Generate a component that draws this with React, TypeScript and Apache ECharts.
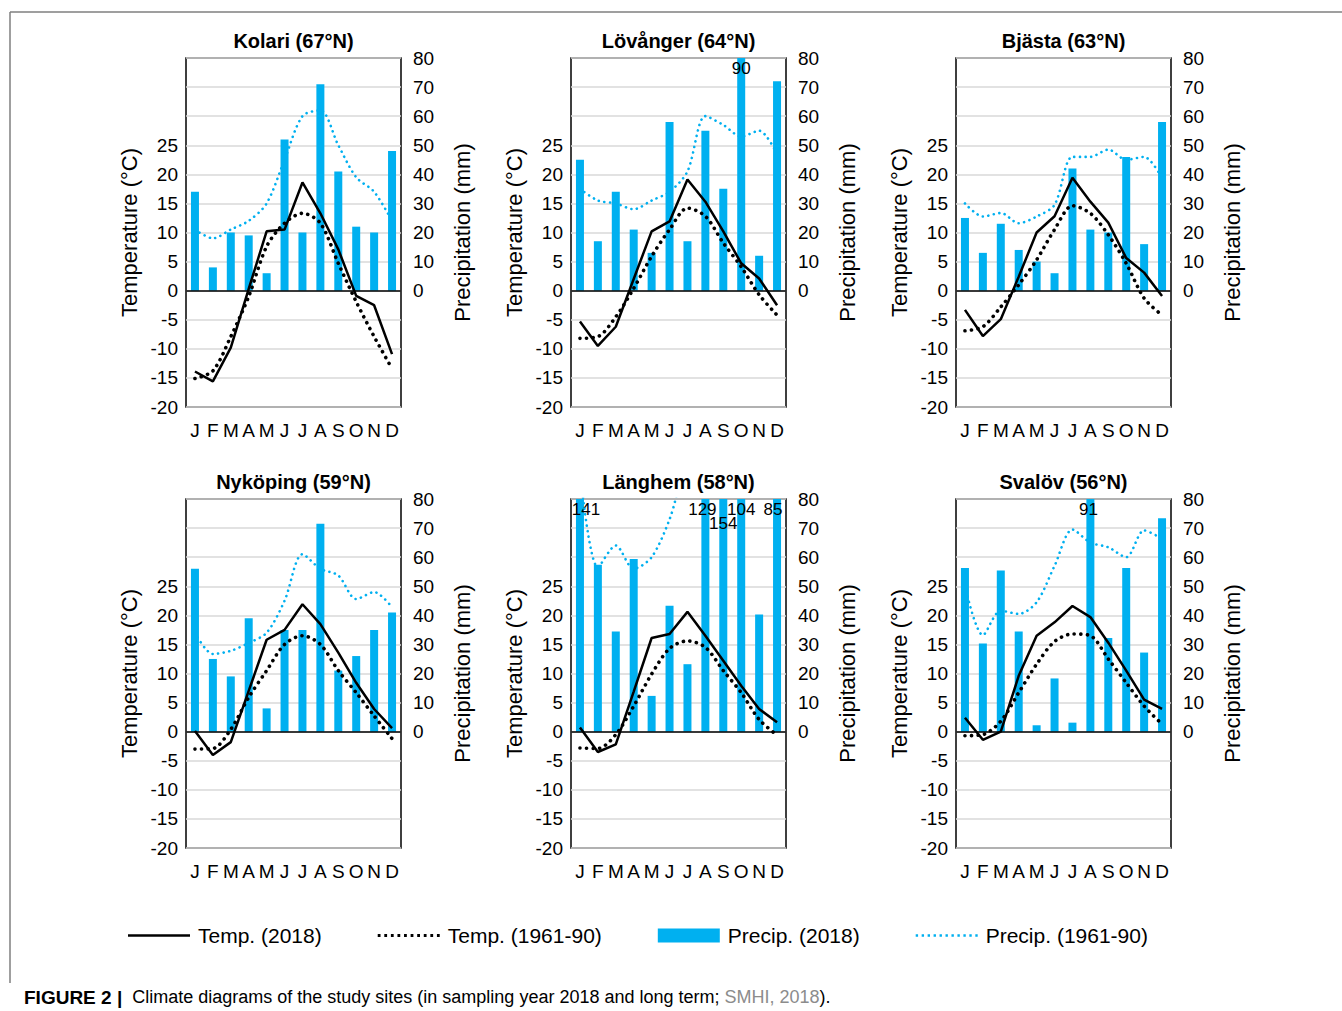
import React, { useEffect, useRef } from 'react';
import * as echarts from 'echarts';

const months = ['Jan', 'Feb', 'Mar', 'Apr', 'May', 'Jun', 'Jul', 'Aug', 'Sep', 'Oct', 'Nov', 'Dec'];
const stationNames = ['Kolari (67°N)', 'Lövånger (64°N)', 'Bjästa (63°N)', 'Nyköping (59°N)', 'Länghem (58°N)', 'Svalöv (56°N)'];
const legendNames = ['Temp. (2018)', 'Temp. (1961-90)', 'Precip. (2018)', 'Precip. (1961-90)'];
const tempTicksShownMax = 25;
const precipTicksShownMin = 0;

const kolariTemp2018 = [-13.9, -15.6, -9.8, 0.3, 10.2, 10.5, 18.6, 13.3, 7.1, -0.9, -2.5, -10.9];
const kolariTemp6190 = [-15.1, -13.8, -7.9, -1.0, 7.6, 11.6, 13.3, 11.6, 4.7, -1.9, -7.9, -13.4];
const kolariPrecip2018 = [34, 8, 20, 19, 6, 52, 20, 71, 41, 22, 20, 48];
const kolariPrecip6190 = [21, 18, 21, 24, 30, 45, 60, 62, 50, 39, 34, 24];

const lovangerTemp2018 = [-5.3, -9.5, -6.2, 2.0, 10.2, 11.9, 19.1, 15.3, 10.2, 4.7, 2.1, -2.5];
const lovangerTemp6190 = [-8.2, -7.9, -4.5, 0.4, 5.9, 10.5, 14.2, 12.8, 8.2, 4.1, -0.7, -4.2];
const lovangerPrecip2018 = [45, 17, 34, 21, 13, 58, 17, 55, 35, 90, 12, 72];
const lovangerPrecip6190 = [35, 31, 30, 28, 31, 34, 41, 60, 57, 53, 55, 47];

const bjastaTemp2018 = [-3.3, -7.8, -4.9, 2.4, 10.0, 12.8, 19.4, 15.3, 11.7, 5.6, 3.1, -0.9];
const bjastaTemp6190 = [-6.9, -6.2, -2.8, 1.0, 5.3, 10.5, 14.6, 13.3, 9.6, 4.7, -1.3, -4.2];
const bjastaPrecip2018 = [25, 13, 23, 14, 10, 6, 42, 21, 20, 46, 16, 58];
const bjastaPrecip6190 = [30, 25.5, 26.7, 23.2, 25.5, 29.5, 46, 46, 48.5, 45, 46, 38.7];

const nykopingTemp2018 = [0.1, -4.0, -1.8, 7.0, 15.8, 17.5, 21.9, 18.5, 13.6, 8.4, 3.9, 0.6];
const nykopingTemp6190 = [-3.0, -2.9, 0.4, 5.9, 10.5, 15.0, 16.5, 15.0, 10.5, 6.7, 2.7, -1.2];
const nykopingPrecip2018 = [56, 25, 19, 39, 8, 35, 35, 71.5, 21, 26, 35, 41];
const nykopingPrecip6190 = [34, 26.7, 27.8, 30.5, 34, 45, 61, 56, 53.7, 45.6, 48, 42.8];

const langhemTemp2018 = [0.7, -3.5, -2.2, 6.9, 16.1, 16.8, 20.6, 16.5, 12.2, 7.9, 3.9, 1.6];
const langhemTemp6190 = [-2.8, -2.9, -0.5, 4.4, 9.9, 14.3, 15.6, 14.5, 10.5, 6.7, 2.1, -0.6];
const langhemPrecip2018 = [141, 57.4, 34.4, 59.4, 12.3, 43.3, 23.2, 129, 154, 104, 40.3, 85];
const langhemPrecip6190 = [90, 56.5, 64, 56, 60, 73, 92, 95, 92, 95, 98, 90];

const svalovTemp2018 = [2.4, -1.4, 0, 9.6, 16.5, 18.8, 21.6, 19.7, 15.3, 10.5, 5.5, 3.9];
const svalovTemp6190 = [-0.7, -0.5, 1.8, 6.7, 11.6, 15.5, 16.8, 16.5, 12.5, 8.4, 4.4, 1.3];
const svalovPrecip2018 = [56.3, 30.3, 55.4, 34.4, 2.2, 18.3, 3.1, 91, 32.2, 56.3, 27.2, 73.4];
const svalovPrecip6190 = [50.2, 33.2, 41.6, 40.5, 44.5, 57, 69.5, 65, 63.4, 60, 69.2, 66.3];

const allTemp2018 = [kolariTemp2018, lovangerTemp2018, bjastaTemp2018, nykopingTemp2018, langhemTemp2018, svalovTemp2018];
const allTemp6190 = [kolariTemp6190, lovangerTemp6190, bjastaTemp6190, nykopingTemp6190, langhemTemp6190, svalovTemp6190];
const allPrecip2018 = [kolariPrecip2018, lovangerPrecip2018, bjastaPrecip2018, nykopingPrecip2018, langhemPrecip2018, svalovPrecip2018];
const allPrecip6190 = [kolariPrecip6190, lovangerPrecip6190, bjastaPrecip6190, nykopingPrecip6190, langhemPrecip6190, svalovPrecip6190];

// label nudges (style only) for bars that exceed the axis: key "station-month"
const labelNudge: Record<string, [number, number]> = {
  '4-0': [6, 0],
  '4-7': [-3, 0],
  '4-8': [0, 14],
  '4-11': [-4, 0],
  '5-7': [-2, 0],
};

const FONT = '"Liberation Sans", Arial, sans-serif';
const BLUE = '#00B0F0';
const COLS = [186, 571, 956];
const ROWS = [58, 499];
const PW = 215;
const PH = 349;
const PRECIP_MAX = 80;

// legend icon shapes (style only)
function dotsPath(n: number, step: number, size: number) {
  let d = '';
  for (let k = 0; k < n; k++) {
    const x = k * step;
    d += `M${x},0 h${size} v${size} h${-size} Z `;
  }
  return 'path://' + d.trim();
}
const solidIcon = 'path://M0,0 H62 V2.6 H0 Z';
const blackDotsIcon = dotsPath(10, 6.6, 2.8);
const blueDotsIcon = dotsPath(11, 6.0, 2.4);

export default function App() {
  const ref = useRef<HTMLDivElement>(null);
  useEffect(() => {
    document.body.style.margin = '0';
    const chart = echarts.init(ref.current!, null, { renderer: 'svg' });
    const grids: any[] = [];
    const xAxes: any[] = [];
    const yAxes: any[] = [];
    const series: any[] = [];
    const graphics: any[] = [];

    stationNames.forEach((name, i) => {
      const left = COLS[i % 3];
      const top = ROWS[Math.floor(i / 3)];
      grids.push({
        left, top, width: PW, height: PH, show: true,
        borderColor: '#000', borderWidth: 1.5, backgroundColor: 'transparent',
      });
      xAxes.push({
        type: 'category', gridIndex: i, data: months,
        axisLine: { show: false, onZero: false }, axisTick: { show: false },
        axisLabel: {
          interval: 0, hideOverlap: false, margin: 14,
          formatter: (v: string) => v.charAt(0),
          fontSize: 19, color: '#000', fontFamily: FONT,
        },
        splitLine: { show: false },
      });
      yAxes.push({
        type: 'value', gridIndex: i, min: -20, max: 40, interval: 5,
        position: 'left',
        name: 'Temperature (°C)', nameLocation: 'middle', nameGap: 46,
        nameTextStyle: { fontSize: 22, color: '#000', fontFamily: FONT },
        axisLine: { show: false }, axisTick: { show: false },
        axisLabel: {
          margin: 8, fontSize: 19, color: '#000', fontFamily: FONT,
          formatter: (v: number) => (v <= tempTicksShownMax ? String(v) : ''),
        },
        splitLine: { show: true, lineStyle: { color: '#d9d9d9', width: 1.5 } },
      });
      yAxes.push({
        type: 'value', gridIndex: i, min: -40, max: PRECIP_MAX, interval: 10,
        position: 'right',
        name: 'Precipitation (mm)', nameLocation: 'middle', nameGap: 50,
        nameTextStyle: { fontSize: 22, color: '#000', fontFamily: FONT },
        axisLine: { show: false }, axisTick: { show: false },
        axisLabel: {
          margin: 12, fontSize: 19, color: '#000', fontFamily: FONT,
          formatter: (v: number) => (v >= precipTicksShownMin ? String(v) : ''),
        },
        splitLine: { show: false },
      });

      series.push({
        name: legendNames[2], type: 'bar', xAxisIndex: i, yAxisIndex: 2 * i + 1,
        barWidth: 8, clip: true,
        itemStyle: { color: BLUE },
        data: allPrecip2018[i].map((v, m) =>
          v > PRECIP_MAX
            ? {
                value: v,
                label: {
                  show: true, position: 'insideTop', distance: 2,
                  offset: labelNudge[`${i}-${m}`] || [0, 0],
                  color: '#000', fontSize: 17, fontFamily: FONT,
                },
              }
            : v
        ),
      });
      series.push({
        name: legendNames[3], type: 'line', xAxisIndex: i, yAxisIndex: 2 * i + 1,
        smooth: 0.3, symbol: 'none', clip: true,
        itemStyle: { color: BLUE },
        lineStyle: { color: BLUE, width: 2.6, type: [0.1, 5.5], cap: 'round' },
        data: allPrecip6190[i],
      });
      series.push({
        name: legendNames[1], type: 'line', xAxisIndex: i, yAxisIndex: 2 * i,
        smooth: 0.3, symbol: 'none', clip: true,
        itemStyle: { color: '#000' },
        lineStyle: { color: '#000', width: 3.6, type: [0.1, 6.5], cap: 'round' },
        data: allTemp6190[i],
      });
      series.push({
        name: legendNames[0], type: 'line', xAxisIndex: i, yAxisIndex: 2 * i,
        symbol: 'none', clip: true,
        itemStyle: { color: '#000' },
        lineStyle: { color: '#000', width: 2.5 },
        data: allTemp2018[i],
        markLine: {
          silent: true, symbol: 'none', label: { show: false },
          lineStyle: { color: '#000', width: 1.5, type: 'solid' },
          data: [{ yAxis: 0 }],
        },
      });

      graphics.push({
        type: 'text', x: left + PW / 2, y: top - 17,
        style: {
          text: name, align: 'center', verticalAlign: 'middle',
          font: `bold 20px ${FONT}`, fill: '#000',
        },
      });
    });

    graphics.push({
      type: 'line', shape: { x1: 10, y1: 12, x2: 1342, y2: 12 },
      style: { stroke: '#7f7f7f', lineWidth: 1.5 },
    });
    graphics.push({
      type: 'line', shape: { x1: 10, y1: 12, x2: 10, y2: 983 },
      style: { stroke: '#7f7f7f', lineWidth: 1.5 },
    });
    graphics.push({
      type: 'text', x: 24, y: 997,
      style: {
        text: '{b|FIGURE 2 |}{r|  Climate diagrams of the study sites (in sampling year 2018 and long term; }{g|SMHI, 2018}{r|).}',
        verticalAlign: 'middle',
        rich: {
          b: { font: `bold 19px ${FONT}`, fill: '#000' },
          r: { font: `18px ${FONT}`, fill: '#000' },
          g: { font: `18px ${FONT}`, fill: '#8c8c8c' },
        },
      },
    });

    chart.setOption({
      animation: false,
      backgroundColor: '#fff',
      textStyle: { fontFamily: FONT },
      grid: grids,
      xAxis: xAxes,
      yAxis: yAxes,
      series,
      legend: {
        data: [
          { name: legendNames[0], icon: solidIcon },
          { name: legendNames[1], icon: blackDotsIcon },
          { name: legendNames[2], icon: 'rect' },
          { name: legendNames[3], icon: blueDotsIcon },
        ],
        left: 128, top: 925, padding: 0, itemWidth: 62, itemHeight: 14, itemGap: 56,
        symbolKeepAspect: true,
        textStyle: { fontSize: 21, color: '#000', fontFamily: FONT, padding: [0, 0, 0, 3] },
        selectedMode: false,
      },
      graphic: graphics,
    });
    return () => chart.dispose();
  }, []);
  return <div ref={ref} style={{ width: 1342, height: 1011 }} />;
}
